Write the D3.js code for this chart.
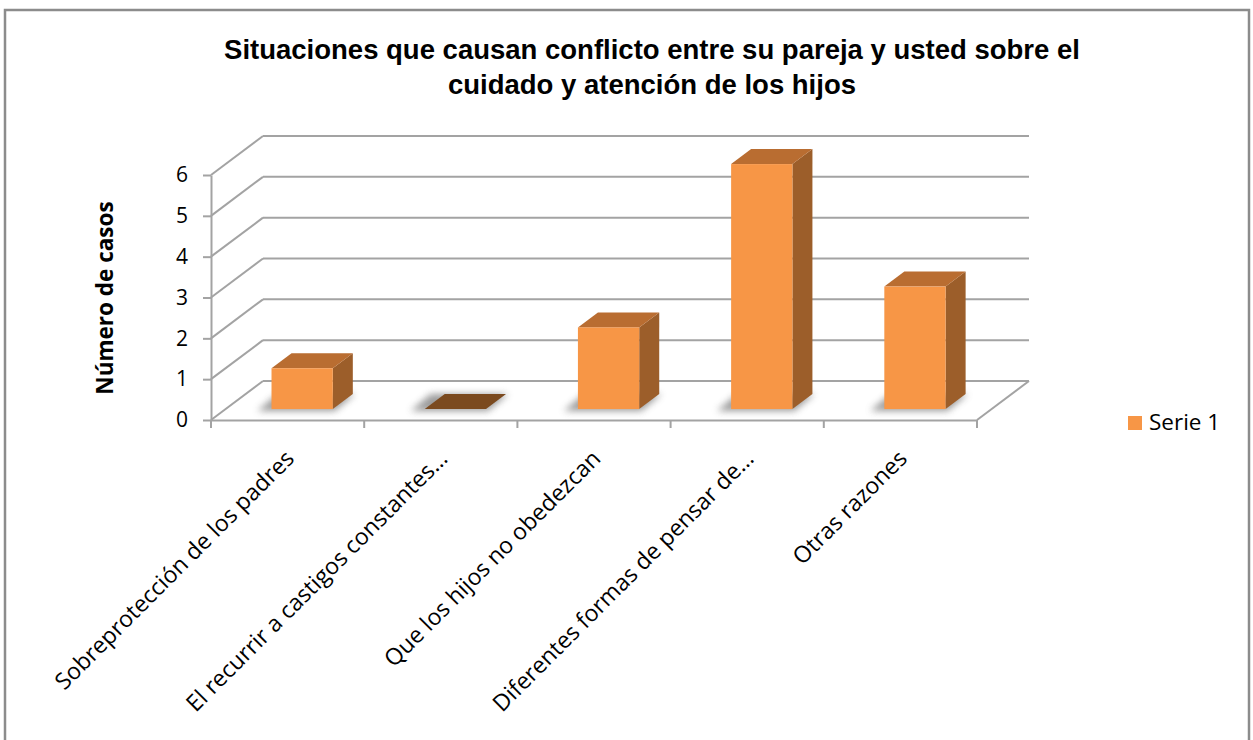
<!DOCTYPE html>
<html>
<head>
<meta charset="utf-8">
<script src="https://cdn.jsdelivr.net/npm/d3@7/dist/d3.min.js"></script>
<style>
body { margin: 0; background: white; }
.lbl { font-family: "Open Sans", Lato, sans-serif; fill: #000; }
</style>
</head>
<body>
<script>
const categories = [
  "Sobreprotección de los padres",
  "El recurrir a castigos constantes…",
  "Que los hijos no obedezcan",
  "Diferentes formas de pensar de…",
  "Otras razones"
];
const values = [1, 0, 2, 6, 3];
const yTicks = [0, 1, 2, 3, 4, 5, 6];
const seriesName = "Serie 1";
const titleLines = [
  "Situaciones que causan conflicto entre su pareja y usted sobre el",
  "cuidado y atención de los hijos"
];
const yTitle = "Número de casos";

const W = 1253, H = 740;
const svg = d3.select("body").append("svg").attr("width", W).attr("height", H);

// 3d depth of the floor / side wall
const depth = {dx: 52, dy: -39};
const f0 = 0.28, f1 = 0.665;   // bar depth slice

const x = d3.scaleBand().domain(categories).range([211, 977]).paddingInner(0.6).paddingOuter(0.3);
const xc = d3.scaleBand().domain(categories).range([211, 977]);
const y = d3.scaleLinear().domain([0, 6]).range([420, 175]);

const grid = "#a3a3a3";

const defs = svg.append("defs");
defs.append("filter").attr("id", "blur").attr("x", "-50%").attr("y", "-200%").attr("width", "200%").attr("height", "500%")
  .append("feGaussianBlur").attr("stdDeviation", 3.5);

// outer frame
svg.append("rect").attr("x", 5).attr("y", 10).attr("width", 1244).attr("height", 740)
  .attr("fill", "none").attr("stroke", "#8c8c8c").attr("stroke-width", 2.5);

// title
svg.append("g").selectAll("text").data(titleLines).join("text")
  .attr("x", 652).attr("y", (d, i) => 59 + i * 35)
  .attr("text-anchor", "middle")
  .style("font-family", "'Liberation Sans', Arial, sans-serif")
  .style("font-weight", "bold").style("font-size", "27.5px")
  .text(d => d);

const g = svg.append("g");

// back wall gridlines
g.selectAll(".back").data(yTicks).join("line")
  .attr("x1", 211 + depth.dx).attr("x2", 977 + depth.dx)
  .attr("y1", d => y(d) + depth.dy).attr("y2", d => y(d) + depth.dy)
  .attr("stroke", grid).attr("stroke-width", 2);
// side wall diagonals
g.selectAll(".side").data(yTicks).join("line")
  .attr("x1", 211).attr("x2", 211 + depth.dx)
  .attr("y1", d => y(d)).attr("y2", d => y(d) + depth.dy)
  .attr("stroke", grid).attr("stroke-width", 2);
// floor right edge
g.append("line").attr("x1", 977).attr("y1", y(0)).attr("x2", 977 + depth.dx).attr("y2", y(0) + depth.dy)
  .attr("stroke", grid).attr("stroke-width", 2);

// axes
const yAxis = d3.axisLeft(y).tickValues(yTicks).tickFormat(d3.format("d")).tickSize(8).tickPadding(15).tickSizeOuter(0);
const ya = g.append("g").attr("transform", "translate(211,0)").call(yAxis);
ya.select(".domain").attr("stroke", grid).attr("stroke-width", 2);
ya.selectAll(".tick line").attr("stroke", grid).attr("stroke-width", 2);
ya.selectAll(".tick text").attr("class", "lbl").style("font-size", "21px").attr("fill", "#000");

const xAxis = d3.axisBottom(xc).tickSize(0).tickFormat("");
const xa = g.append("g").attr("transform", `translate(0,${y(0)})`).call(xAxis);
xa.select(".domain").attr("stroke", grid).attr("stroke-width", 2);
const bounds = categories.map(c => xc(c)).concat([977]);
xa.selectAll(".sep").data(bounds).join("line")
  .attr("x1", d => d).attr("x2", d => d).attr("y1", 0).attr("y2", 8)
  .attr("stroke", grid).attr("stroke-width", 2);

// category labels
xa.selectAll(".cat").data(categories).join("text").attr("class", "lbl")
  .attr("transform", d => `translate(${xc(d) + xc.bandwidth() / 2 + 8},${40}) rotate(-45)`)
  .attr("text-anchor", "end").style("font-size", "23px")
  .text(d => d);

// bars
const bw = x.bandwidth();
const bars = g.selectAll(".bar").data(categories.map((c, i) => ({c, v: values[i]}))).join("g");

const pt = (px, py) => px + "," + py;
// shadow on floor
bars.append("polygon")
  .attr("points", d => {
    const x0 = x(d.c) + f0 * depth.dx - 14, yb = y(0) + f0 * depth.dy;
    const ddx = (f1 - f0) * depth.dx, ddy = (f1 - f0) * depth.dy;
    return [pt(x0, yb + 2), pt(x0 + bw + 16, yb + 2), pt(x0 + bw + 16 + ddx, yb + ddy), pt(x0 + ddx, yb + ddy)].join(" ");
  })
  .attr("fill", "#7a7a7a").attr("opacity", 0.75).attr("filter", "url(#blur)");

bars.each(function(d) {
  const sel = d3.select(this);
  const xl = x(d.c) + f0 * depth.dx, xr = xl + bw;
  const yb = y(0) + f0 * depth.dy, yt = y(d.v) + f0 * depth.dy;
  const ddx = (f1 - f0) * depth.dx, ddy = (f1 - f0) * depth.dy;
  if (d.v === 0) {
    sel.append("polygon")
      .attr("points", [pt(xl, yb), pt(xr, yb), pt(xr + ddx, yb + ddy), pt(xl + ddx, yb + ddy)].join(" "))
      .attr("fill", "#7b4a1f");
    return;
  }
  sel.append("polygon")
    .attr("points", [pt(xr, yb), pt(xr + ddx, yb + ddy), pt(xr + ddx, yt + ddy), pt(xr, yt)].join(" "))
    .attr("fill", "#9c5e2a");
  sel.append("polygon")
    .attr("points", [pt(xl, yt), pt(xr, yt), pt(xr + ddx, yt + ddy), pt(xl + ddx, yt + ddy)].join(" "))
    .attr("fill", "#b96d31");
  sel.append("rect").attr("x", xl).attr("y", yt).attr("width", bw).attr("height", yb - yt)
    .attr("fill", "#f79646");
});

// y title
svg.append("text").attr("class", "lbl")
  .attr("transform", "translate(113,298) rotate(-90)")
  .attr("text-anchor", "middle").style("font-size", "22.5px").style("font-weight", "bold")
  .text(yTitle);

// legend
const lg = svg.append("g").attr("transform", "translate(1128,416)");
lg.append("rect").attr("width", 14).attr("height", 14).attr("fill", "#f79646");
lg.append("text").attr("class", "lbl").attr("x", 21).attr("y", 14).style("font-size", "22.5px").text(seriesName);
</script>
</body>
</html>
